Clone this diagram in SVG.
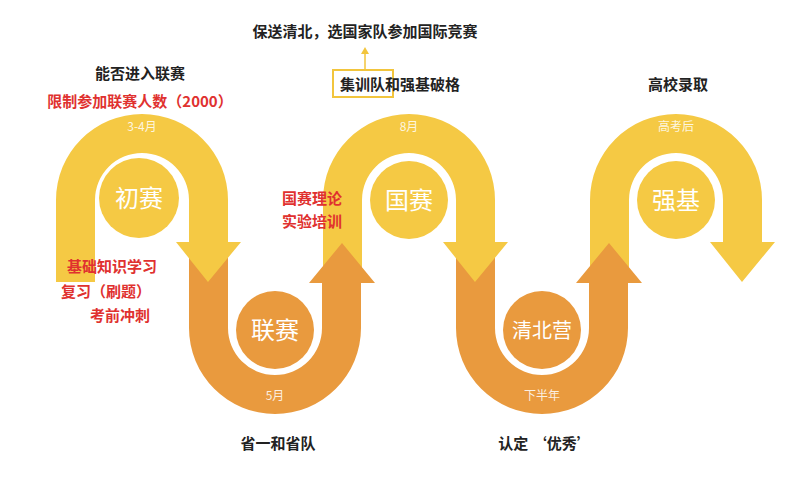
<svg xmlns="http://www.w3.org/2000/svg" width="787" height="481" viewBox="0 0 787 481">
<style>
.y{fill:#f5c944}.o{fill:#e99a3e}
text{font-family:"Noto Sans CJK SC","Liberation Sans",sans-serif;text-anchor:middle}
.t{font-size:15px;font-weight:bold;fill:#222}
.r{font-size:15px;font-weight:bold;fill:#e0312f}
.m{font-size:12px;fill:#fff;fill-opacity:.85}
.c{font-size:24px;fill:#fff}
</style>
<rect width="787" height="481" fill="#fff"/>
<g id="arch3"><path class="y" d="M590,283 V200 A86,86 0 0 1 762,200 V242 H775 L742,282 L710,242 H723 V200 A47,47 0 0 0 629,200 V283 Z"/><circle class="y" cx="676" cy="200" r="39"/><text class="c" x="676" y="209">强基</text><text class="m" x="676" y="131">高考后</text></g>
<g id="u2"><path class="o" d="M456,250 V328 A86,86 0 0 0 628,328 V283 H642 L609,243 L576,283 H589 V328 A47,47 0 0 1 495,328 V250 Z"/><circle class="o" cx="542" cy="330" r="39"/><text class="c" x="542" y="338" style="font-size:20px">清北营</text><text class="m" x="542" y="400">下半年</text></g>
<g id="arch2"><path class="y" d="M323,283 V200 A86,86 0 0 1 495,200 V242 H508 L475,282 L443,242 H456 V200 A47,47 0 0 0 362,200 V283 Z"/><circle class="y" cx="409" cy="200" r="39"/><text class="c" x="409" y="209">国赛</text><text class="m" x="409" y="131">8月</text></g>
<g id="u1"><path class="o" d="M189,250 V328 A86,86 0 0 0 361,328 V283 H375 L342,243 L309,283 H322 V328 A47,47 0 0 1 228,328 V250 Z"/><circle class="o" cx="275" cy="330" r="39"/><text class="c" x="275" y="339">联赛</text><text class="m" x="275" y="400">5月</text></g>
<g id="arch1"><path class="y" d="M56,282 V200 A86,86 0 0 1 228,200 V242 H241 L208,282 L176,242 H189 V200 A47,47 0 0 0 95,200 V282 Z"/><circle class="y" cx="139" cy="198" r="40"/><text class="c" x="139" y="207">初赛</text><text class="m" x="142" y="131">3-4月</text></g>
<g id="labels">
<text class="t" x="140" y="79">能否进入联赛</text>
<text class="r" x="140" y="107">限制参加联赛人数（2000）</text>
<text class="t" x="365" y="37">保送清北，选国家队参加国际竞赛</text>
<rect x="333" y="70" width="60" height="27" fill="none" stroke="#f2c53d" stroke-width="2"/>
<text class="t" x="400" y="90">集训队和强基破格</text>
<text class="t" x="678" y="90">高校录取</text>
<text class="r" x="312" y="204">国赛理论</text>
<text class="r" x="312" y="227">实验培训</text>
<text class="r" x="112" y="272">基础知识学习</text>
<text class="r" x="106" y="297">复习（刷题）</text>
<text class="r" x="120" y="321">考前冲刺</text>
<text class="t" x="278" y="449">省一和省队</text>
<text class="t" x="545" y="449">认定 ‘优秀’</text>
</g>
<g id="connectors"><path d="M365,70 V52" stroke="#f2c53d" stroke-width="1.5"/><path d="M361,54 L365,47 L369,54 Z" fill="#f2c53d"/></g>
</svg>
